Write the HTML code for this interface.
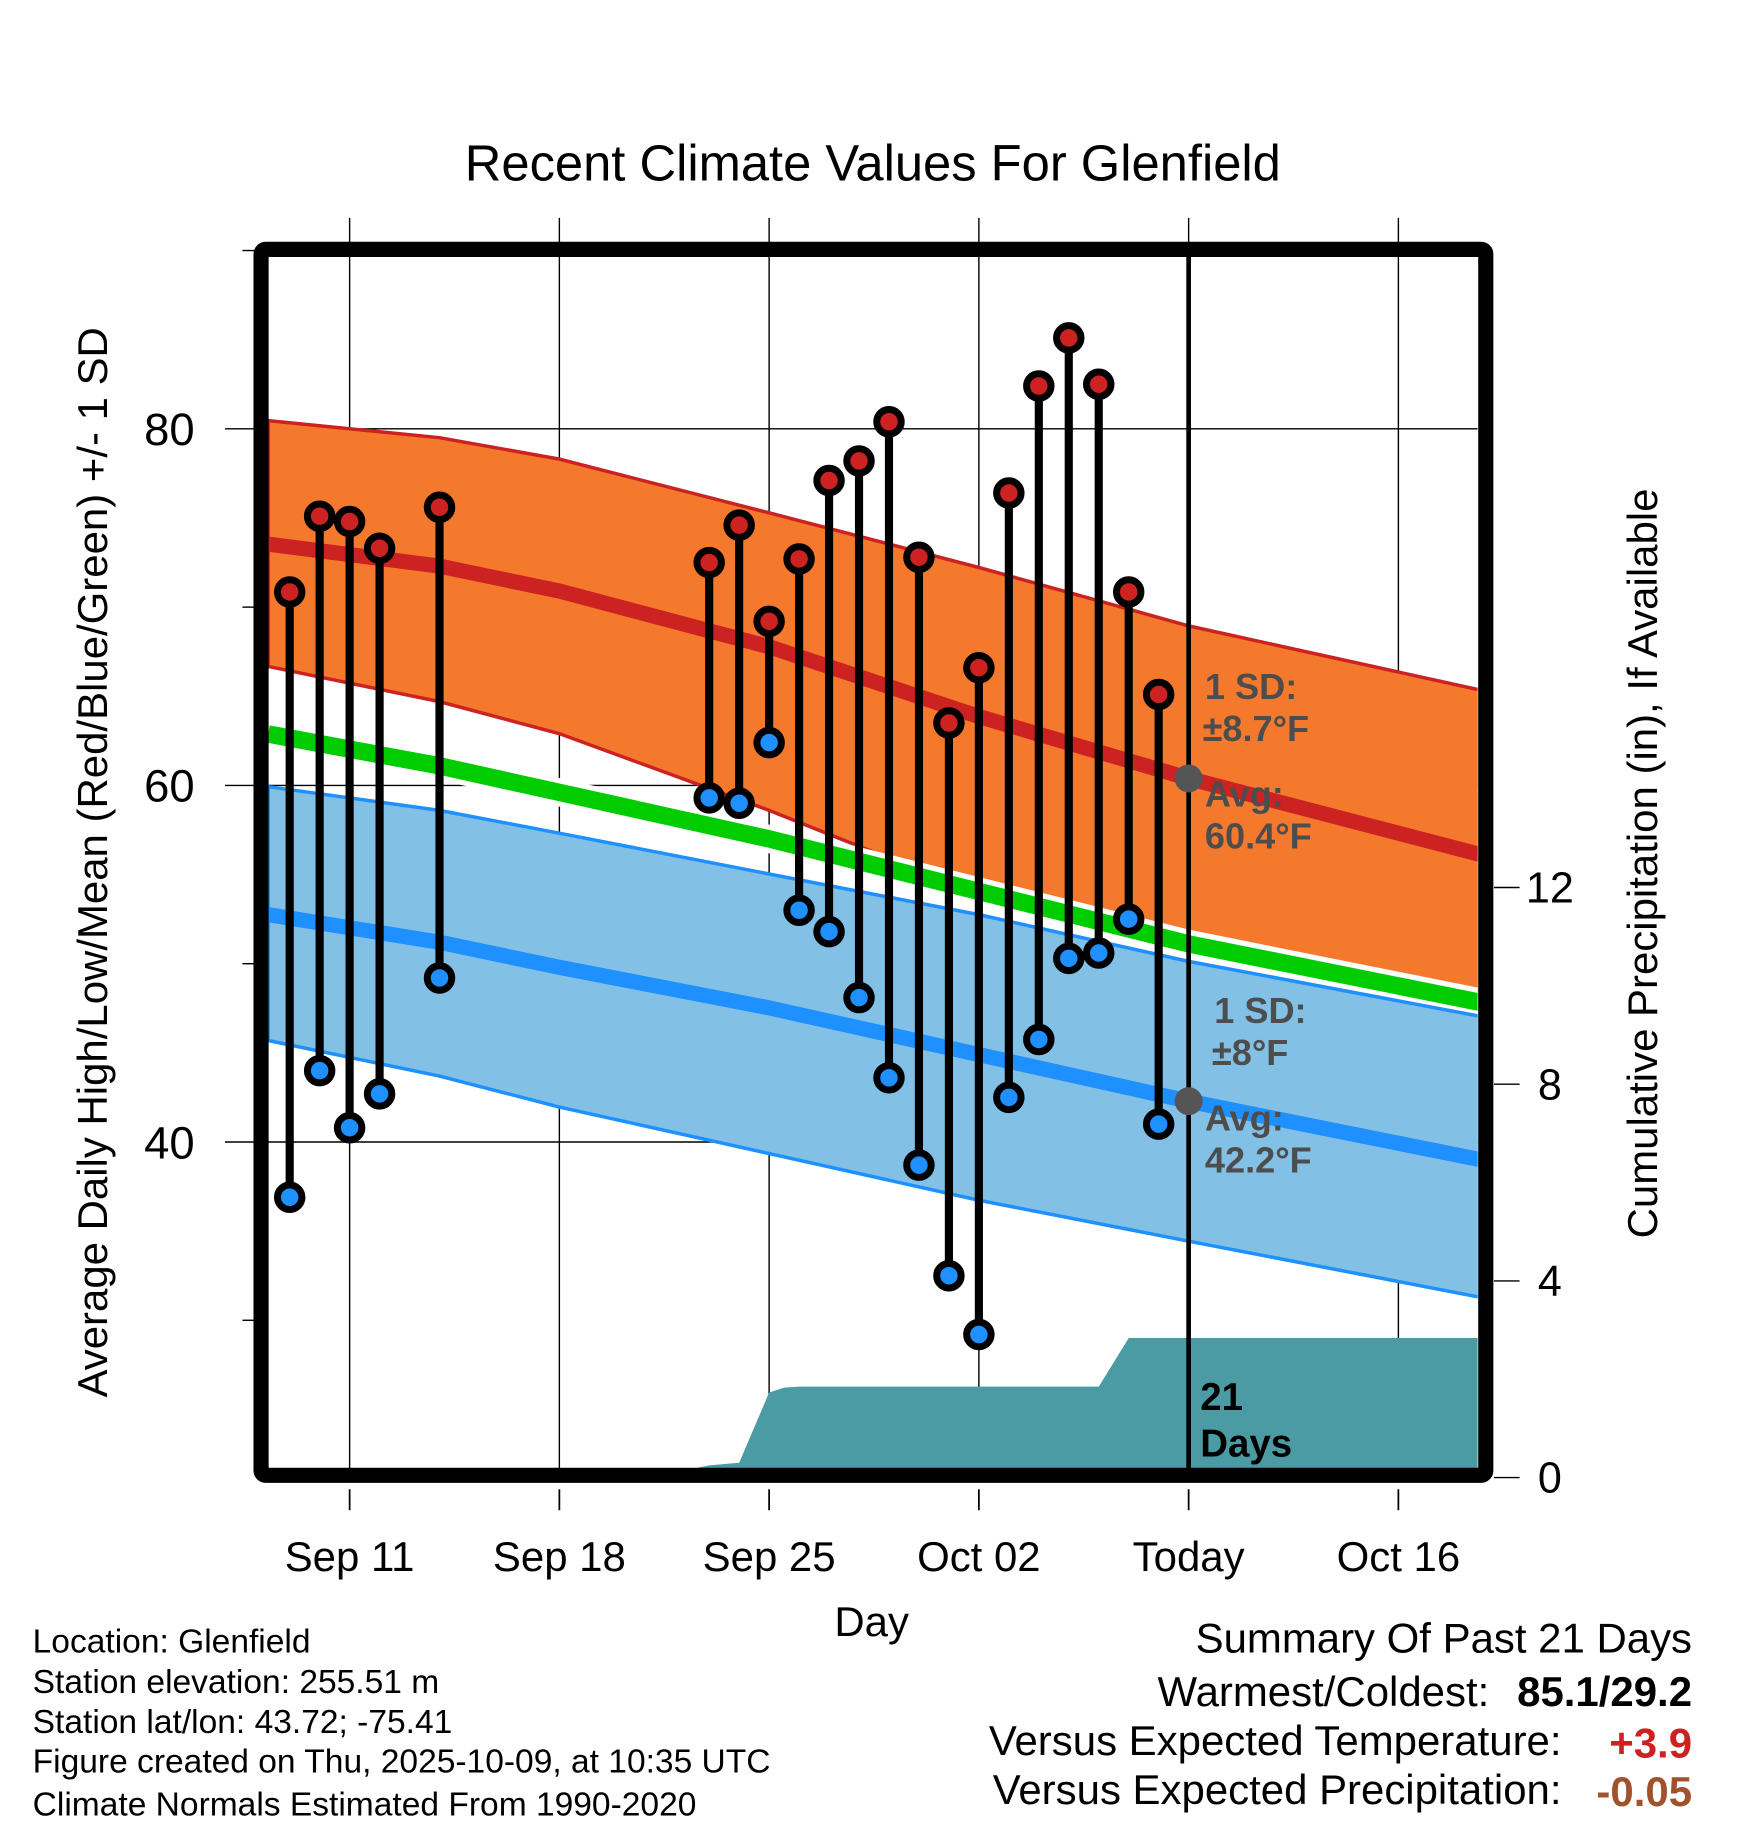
<!DOCTYPE html>
<html><head><meta charset="utf-8"><style>
html,body{margin:0;padding:0;background:#fff}
svg{display:block}
text{font-family:"Liberation Sans",sans-serif}
</style></head><body>
<svg id="chart" width="1748" height="1828" viewBox="0 0 1500 1568.7" xmlns="http://www.w3.org/2000/svg">
<text x="749" y="155" font-size="43.5" text-anchor="middle">Recent Climate Values For Glenfield</text>
<g id="grid"></g>
<g id="bands"></g>
<g id="precip"></g>
<g id="marks"></g>
<g id="annot"></g>
<rect x="224" y="214" width="1051" height="1052" fill="none" stroke="#000" stroke-width="13" rx="4"/>
<text transform="translate(92,740) rotate(-90)" font-size="36" text-anchor="middle">Average Daily High/Low/Mean (Red/Blue/Green) +/- 1 SD</text>
<text transform="translate(1422,741) rotate(-90)" font-size="36" text-anchor="middle">Cumulative Precipitation (in), If Available</text>
<text x="748" y="1404" font-size="36" text-anchor="middle">Day</text>
<g font-size="28.8">
<text x="28" y="1418">Location: Glenfield</text>
<text x="28" y="1453">Station elevation: 255.51 m</text>
<text x="28" y="1487">Station lat/lon: 43.72; -75.41</text>
<text x="28" y="1521">Figure created on Thu, 2025-10-09, at 10:35 UTC</text>
<text x="28" y="1558">Climate Normals Estimated From 1990-2020</text>
</g>
<g font-size="36">
<text x="1452" y="1418" text-anchor="end">Summary Of Past 21 Days</text>
<text x="1278" y="1464" text-anchor="end">Warmest/Coldest:</text>
<text x="1452" y="1464" text-anchor="end" font-weight="bold">85.1/29.2</text>
<text x="1340" y="1506" text-anchor="end">Versus Expected Temperature:</text>
<text x="1452" y="1508" text-anchor="end" font-weight="bold" fill="#cc2222">+3.9</text>
<text x="1340" y="1548" text-anchor="end">Versus Expected Precipitation:</text>
<text x="1452" y="1550" text-anchor="end" font-weight="bold" fill="#a0522d">-0.05</text>
</g>
</svg>
<script>
// Days relative to Sep 11 (0)
const xTickDays = [0, 7, 14, 21, 28, 35];
const xTickLabels = ["Sep 11", "Sep 18", "Sep 25", "Oct 02", "Today", "Oct 16"];
const yTicks = [80, 60, 40];
const yMinorTicks = [90, 70, 50, 30];
const y2Ticks = [0, 4, 8, 12];
const obsDays = [-2,-1,0,1,3,12,13,14,15,16,17,18,19,20,21,22,23,24,25,26,27];
const highs = [70.85,75.1,74.8,73.3,75.6,72.5,74.6,69.2,72.7,77.1,78.2,80.4,72.8,63.5,66.6,76.4,82.4,85.1,82.5,70.85,65.1];
const lows = [36.9,44.0,40.8,42.7,49.2,59.3,59.0,62.4,53.0,51.8,48.1,43.6,38.7,32.5,29.2,42.5,45.75,50.3,50.6,52.5,41.0];
const normDays = [-2.72,3,7,14,21,28,37.7];
const highUpper = [80.46,79.5,78.3,75.29,72.22,68.95,65.36];
const highAvg = [73.53,72.3,70.9,67.78,63.86,60.39,56.14];
const highLower = [66.67,64.7,62.9,58.6,53.9,50.98,48.5];
const meanAvg = [62.88,61.1,59.61,57.0,54.05,51.11,47.84];
const lowUpper = [59.93,58.6,57.32,55.03,52.75,50.13,47.06];
const lowAvg = [52.75,51.2,49.8,47.52,44.9,42.29,39.02];
const lowLower = [45.69,43.7,41.96,39.35,36.73,34.44,31.3];
const precipDays = [11.6,12,13,14,14.5,15,25,26,37.7];
const precipVals = [0.2,0.25,0.3,1.73,1.83,1.85,1.85,2.84,2.84];
const todayDay = 28;

const NS = "http://www.w3.org/2000/svg";
const X0 = 230, X1 = 1268, Y0 = 215, Y1 = 1260;
const xs = d => 300 + d * (180/7);
const ys = v => 980 - (v - 40) * 15.3;
const y2s = p => 1268 - p * 42.2;
function mk(parent, tag, attrs) {
  const e = document.createElementNS(NS, tag);
  for (const k in attrs) e.setAttribute(k, attrs[k]);
  document.getElementById(parent).appendChild(e);
  return e;
}
xTickDays.forEach((d, i) => {
  const x = xs(d);
  let l = mk("grid", "line", {x1:x, x2:x, y1:187, y2:Y1, stroke:"#000", "stroke-width":1.2});
  
  
  let t = mk("grid", "line", {x1:x, x2:x, y1:1278, y2:1296, stroke:"#000", "stroke-width":1.5});
  
  
  let tx = mk("grid", "text", {x:x, y:1348, "font-size":36, "text-anchor":"middle"});
  tx.textContent = xTickLabels[i];
  
  
});
yTicks.forEach(v => {
  const y = ys(v);
  let l = mk("grid", "line", {x1:193, x2:X1, y1:y, y2:y, stroke:"#000", "stroke-width":1.2});
  
  
  let t = mk("grid", "text", {x:167, y:y+14, "font-size":39, "text-anchor":"end"});
  t.textContent = v;
  
  
});
yMinorTicks.forEach(v => {
  const y = ys(v);
  let l = mk("grid", "line", {x1:208, x2:218, y1:y, y2:y, stroke:"#000", "stroke-width":1.2});
  
  
});
y2Ticks.forEach(p => {
  const y = y2s(p);
  let l = mk("grid", "line", {x1:1282, x2:1304, y1:y, y2:y, stroke:"#000", "stroke-width":1.2});
  
  
  let t = mk("grid", "text", {x:1330, y:y+13, "font-size":37, "text-anchor":"middle"});
  t.textContent = p;
  
  
});
mk("bands", "clipPath", {id:"plotclip"});
mk("plotclip", "rect", {x:X0, y:Y0, width:X1-X0, height:Y1-Y0});
const pts = arr => arr.map((v,i) => xs(normDays[i]).toFixed(1)+","+ys(v).toFixed(1));
const band = (up, lo) => "M" + pts(up).join(" L") + " L" + pts(lo).reverse().join(" L") + " Z";
const line = arr => "M" + pts(arr).join(" L");
let e;
e = mk("bands", "path", {d:band(highUpper, highLower), fill:"#f5792d", stroke:"#cc2222", "stroke-width":3, "clip-path":"url(#plotclip)"});


e = mk("bands", "path", {d:line(meanAvg), fill:"none", stroke:"#fff", "stroke-width":24, "clip-path":"url(#plotclip)"});


e = mk("bands", "path", {d:band(lowUpper, lowLower), fill:"#82c0e6", stroke:"#1e90ff", "stroke-width":3, "clip-path":"url(#plotclip)"});


e = mk("bands", "path", {d:line(meanAvg), fill:"none", stroke:"#00cc00", "stroke-width":15, "clip-path":"url(#plotclip)"});


e = mk("bands", "path", {d:line(highAvg), fill:"none", stroke:"#cc2222", "stroke-width":13, "clip-path":"url(#plotclip)"});


e = mk("bands", "path", {d:line(lowAvg), fill:"none", stroke:"#1e90ff", "stroke-width":13, "clip-path":"url(#plotclip)"});


let pd = "M" + xs(precipDays[0]).toFixed(1) + "," + y2s(0);
precipDays.forEach((d,i) => { pd += " L" + xs(d).toFixed(1) + "," + y2s(precipVals[i]).toFixed(1); });
pd += " L" + xs(precipDays[precipDays.length-1]).toFixed(1) + "," + y2s(0) + " Z";
e = mk("precip", "path", {d:pd, fill:"#4a9ba4", "clip-path":"url(#plotclip)"});


e = mk("precip", "line", {x1:xs(todayDay), x2:xs(todayDay), y1:Y0, y2:Y1, stroke:"#000", "stroke-width":4});


obsDays.forEach((d,i) => {
  const x = xs(d);
  let s = mk("marks", "line", {x1:x, x2:x, y1:ys(highs[i]), y2:ys(lows[i]), stroke:"#000", "stroke-width":7});
  
  
  let h = mk("marks", "circle", {cx:x, cy:ys(highs[i]), r:10.5, fill:"#cc2222", stroke:"#000", "stroke-width":6});
  
  
  let l = mk("marks", "circle", {cx:x, cy:ys(lows[i]), r:10.5, fill:"#1e90ff", stroke:"#000", "stroke-width":6});
  
  
});
const tx = xs(todayDay);
const hi = highAvg[5], lo = lowAvg[5];
e = mk("annot", "circle", {cx:tx, cy:ys(hi), r:12, fill:"#555"});


e = mk("annot", "circle", {cx:tx, cy:ys(lo), r:12, fill:"#555"});


const labels = [["1 SD:",1034,600],["±8.7°F",1032,636],["Avg:",1034,692],["60.4°F",1034,728],
  ["1 SD:",1042,878],["±8°F",1040,914],["Avg:",1034,970],["42.2°F",1034,1006]];
labels.forEach(a => {
  let t = mk("annot", "text", {x:a[1], y:a[2], "font-size":31, "font-weight":"bold", fill:"#4d4d4d"});
  t.textContent = a[0];
  
  
});
[["21",1030,1210],["Days",1030,1250]].forEach(a => {
  let t = mk("annot", "text", {x:a[1], y:a[2], "font-size":33, "font-weight":"bold", fill:"#000"});
  t.textContent = a[0];
  
  
});
</script>
</body></html>
